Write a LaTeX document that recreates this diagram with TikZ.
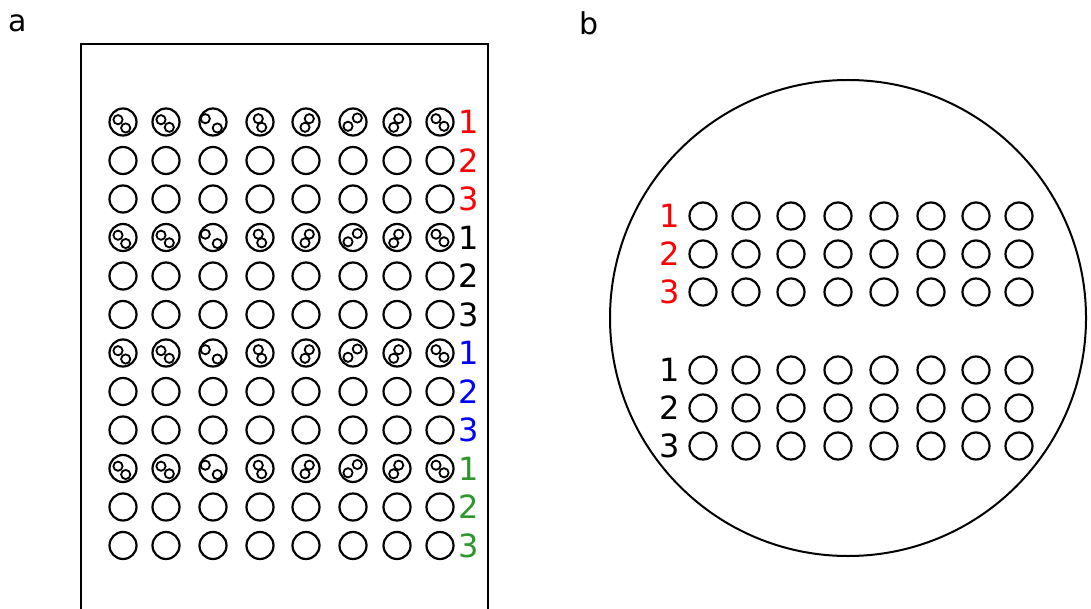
\documentclass[tikz,border=0pt]{standalone}
\usepackage{fontspec}
\setmainfont{DejaVu Sans}
\definecolor{setred}{RGB}{255,0,0}
\definecolor{setblue}{RGB}{0,0,255}
\definecolor{setgreen}{RGB}{45,150,45}
\tikzset{
  well/.style={circle, draw, line width=2.2pt, minimum size=27pt, inner sep=0pt},
  cell/.style={line width=1.8pt},
  rowlabel/.style={font=\fontsize{32}{34}\selectfont, inner sep=0pt},
  panel/.style={font=\fontsize{30}{32}\selectfont, inner sep=0pt},
  frame/.style={line width=1.8pt}
}
\begin{document}
\begin{tikzpicture}[x=1pt, y=-1pt]
  \useasboundingbox (0,0) rectangle (1091,609);

  % panel letters
  \node[panel] (pa) at (18,23) {a};
  \node[panel] (pb) at (589,23) {b};

  % ---- panel a: multiwell plate (open at the bottom) ----
  \draw[frame] (81,612) -- (81,44) -- (488,44) -- (488,612);

  % wells: 12 rows x 8 columns
  \foreach \c/\x in {1/123,2/166,3/213,4/260,5/306,6/353,7/397,8/440} {
    \foreach \r in {1,...,12} {
      \node[well] (a-\r-\c) at (\x,{122+(\r-1)*38.5}) {};
    }
  }

  % seeded wells: two cells in every well of rows 1, 4, 7, 10
  \foreach \r in {1,4,7,10} {
    \foreach \c/\ax/\ay/\bx/\by in {
        1/-5/-2.3/2.7/6, 2/-5/-2.3/3.3/5.3, 3/-7.7/-3.3/4.3/6,
        4/-1.7/-3.3/1.7/5.3, 5/3.3/-3.3/-1/5.3, 6/4.3/-4/-5/4.3,
        7/1.7/-3.3/-3.3/5.3, 8/-4/-3.3/4/4.3} {
      \draw[cell, shift={(a-\r-\c.center)}] (\ax,\ay) circle (4.6pt);
      \draw[cell, shift={(a-\r-\c.center)}] (\bx,\by) circle (4.6pt);
    }
  }

  % row labels of panel a
  \foreach \r/\t/\col in {1/1/setred,2/2/setred,3/3/setred,
                          4/1/black,5/2/black,6/3/black,
                          7/1/setblue,8/2/setblue,9/3/setblue,
                          10/1/setgreen,11/2/setgreen,12/3/setgreen} {
    \node[rowlabel, text=\col] (la-\r) at (469,{122+(\r-1)*38.5}) {\t};
  }

  % ---- panel b: dish with two groups of wells ----
  \node[circle, draw, line width=2pt, minimum size=476pt, inner sep=0pt] (dish) at (848,318) {};

  \foreach \c/\x in {1/703,2/746,3/791,4/838,5/884,6/931,7/976,8/1019} {
    \foreach \r/\y in {1/216,2/254,3/292,4/370,5/408,6/446} {
      \node[well] (b-\r-\c) at (\x,\y) {};
    }
  }

  \foreach \r/\y/\t/\col in {1/216/1/setred,2/254/2/setred,3/292/3/setred,
                             4/370/1/black,5/408/2/black,6/446/3/black} {
    \node[rowlabel, text=\col] (lb-\r) at (670,\y) {\t};
  }
\end{tikzpicture}
\end{document}
